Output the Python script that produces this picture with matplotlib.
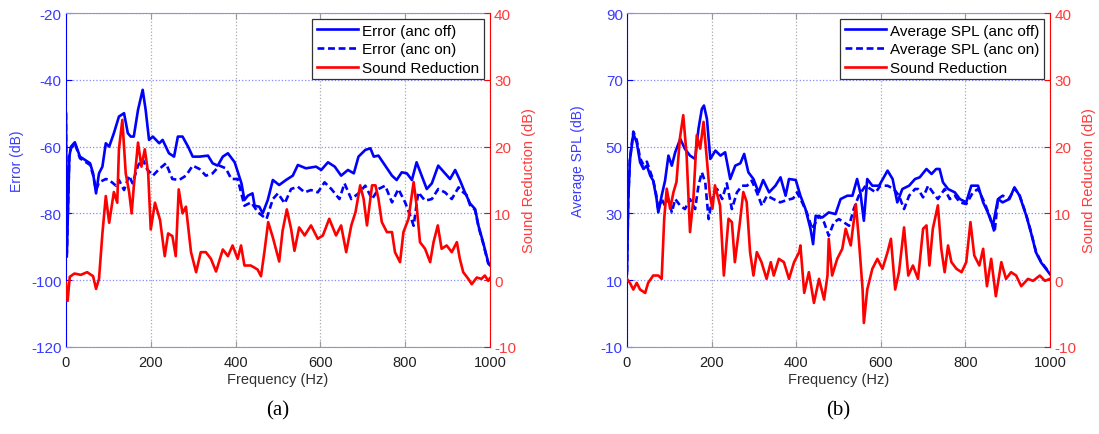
import matplotlib

matplotlib.use("Agg")
import matplotlib.pyplot as plt
import numpy as np

plt.rcParams["font.family"] = ["Liberation Sans", "DejaVu Sans"]
plt.rcParams["axes.unicode_minus"] = False

BLUE = "#0000ff"
RED = "#ff0000"
BLUE_TXT = "#3a3aff"
RED_TXT = "#ff3a3a"

# (a) error microphone spectrum
fa_off = [0, 2, 8, 12, 21, 33, 45, 57, 64, 71, 78, 86, 94, 102, 113, 125, 137, 146, 153, 160,
          170, 181, 188, 196, 205, 220, 228, 243, 255, 264, 275, 288, 299, 315, 335, 346, 358,
          370, 382, 398, 414, 421, 429, 440, 445, 456, 464, 476, 488, 503, 519, 535, 547, 566,
          590, 602, 618, 634, 649, 665, 679, 690, 706, 718, 726, 737, 753, 769, 780, 792, 804,
          816, 827, 839, 851, 863, 878, 894, 906, 918, 929, 941, 953, 965, 973, 984, 996, 1000]
err_off = [-50, -93, -63, -60, -58.7, -63, -64, -65, -68, -74, -68, -66, -59, -60, -56, -51, -50,
           -56, -57, -57, -49, -43, -49, -58, -57, -59, -58, -62, -63, -57, -57, -60, -63, -63,
           -62.7, -65, -65.7, -63, -62, -64.7, -71, -76, -74.7, -74, -77.7, -78, -80, -76, -70,
           -71.5, -70, -68.7, -65.5, -66.5, -66, -67, -64.7, -66, -68.7, -67, -68, -63, -61,
           -60.5, -63, -62.7, -65.7, -68.7, -70, -67.7, -68, -70, -64.7, -68.7, -72.7, -71,
           -65.7, -68, -69.7, -67, -70, -73.7, -77, -78.7, -83.7, -88.7, -94.7, -95.5]

fa_on = [0, 2, 8, 12, 21, 33, 45, 57, 64, 71, 78, 94, 102, 118, 125, 137, 149, 157, 170, 181,
         191, 205, 220, 236, 251, 267, 283, 299, 315, 330, 346, 362, 377, 390, 405, 421, 437,
         453, 473, 488, 500, 516, 531, 547, 563, 578, 594, 610, 626, 645, 657, 673, 690, 706,
         722, 737, 753, 769, 784, 800, 812, 820, 831, 847, 863, 878, 894, 910, 926, 937, 945,
         953, 965, 973, 984, 996, 1000]
err_on = [-50, -92, -63, -60.5, -59, -63.5, -64.5, -65.5, -68.5, -73, -70.7, -69.7, -70, -71.7,
          -70, -73, -68.7, -71, -65.7, -63.7, -66.7, -68.7, -66.7, -65, -69.7, -70, -68.7,
          -65.7, -66.7, -68.7, -68, -65.7, -66.5, -69.7, -69.7, -77.7, -76.7, -79.7, -81.7,
          -75.7, -74, -77, -72.7, -72, -73.7, -73, -73.7, -70.7, -72.7, -75.7, -71, -75.7, -74,
          -71.7, -75.7, -72.7, -71.7, -76.7, -72.7, -76.7, -80.7, -83.7, -73.7, -76.2, -75.7,
          -72.7, -73.7, -75.7, -72.2, -73.7, -74.5, -77.5, -79, -84, -89, -95, -95.5]

fa_red = [0, 4, 9, 20, 35, 50, 64, 71, 78, 86, 94, 102, 113, 121, 125, 133, 141, 149, 155, 160,
          170, 178, 186, 194, 200, 210, 222, 233, 241, 251, 259, 266, 275, 283, 295, 307, 318,
          330, 342, 354, 370, 382, 393, 405, 413, 421, 436, 452, 460, 468, 477, 488, 503, 511,
          521, 531, 539, 550, 563, 578, 594, 606, 621, 637, 649, 661, 673, 683, 694, 702, 710,
          722, 730, 737, 745, 757, 769, 776, 788, 796, 808, 820, 827, 835, 847, 859, 867, 877,
          886, 898, 910, 922, 929, 937, 949, 957, 969, 980, 988, 996, 1000]
red_a = [-0.4, -3.1, 0.5, 1, 0.8, 1.2, 0.6, -1.3, 0.2, 7, 12.6, 8.6, 13.2, 11.6, 19.6, 24, 16,
         13.2, 10, 14, 20.6, 17, 19.6, 16, 7.6, 11.6, 9, 3.6, 7, 6.6, 3.6, 13.6, 10, 11, 4.2,
         1.2, 4.2, 4.2, 3.2, 1.3, 4.6, 3.6, 5.2, 3.2, 5.2, 2.2, 2.2, 1.6, 0.6, 4.2, 8.7, 6.4,
         2.8, 7.4, 10.6, 7.7, 4.4, 7.9, 6.7, 8.2, 6.2, 6.7, 9.2, 6.7, 8.2, 4.2, 8.2, 10.2, 14.2,
         12.2, 8.2, 14.2, 14.2, 12.2, 8.7, 7.2, 7.2, 4.2, 2.7, 7.2, 9.2, 14.7, 11.2, 5.7, 4.7,
         2.7, 5.7, 8.2, 4.7, 5.2, 4.2, 5.7, 3.2, 1.2, 0.2, -0.6, 0.4, 0.2, 0.7, -0.1, 0.3]

# (b) averaged SPL over the monitoring points
fb_off = [0, 3, 7, 15, 23, 31, 39, 47, 55, 62, 70, 74, 82, 90, 98, 106, 114, 126, 137, 149, 161,
          169, 177, 182, 189, 197, 209, 221, 232, 244, 256, 268, 277, 287, 299, 311, 322, 336,
          351, 363, 375, 383, 399, 410, 422, 434, 440, 446, 462, 477, 493, 505, 521, 533, 544,
          552, 560, 568, 580, 596, 616, 628, 639, 651, 667, 681, 692, 708, 720, 731, 739, 747,
          759, 775, 787, 802, 814, 830, 842, 853, 865, 877, 888, 904, 916, 928, 944, 955, 967,
          979, 991, 1000]
spl_off = [12, 34, 46, 53.8, 51.3, 45.3, 43.3, 44.3, 41.3, 39.8, 34.3, 30.3, 35.3, 39.8, 47.3,
           44.3, 48.3, 52.3, 49.3, 47.3, 46.3, 55.3, 61.3, 62.3, 58.3, 46.3, 48.8, 47.3, 48.3,
           40.3, 44.3, 45, 47.8, 42.3, 40.3, 36.3, 40, 36.3, 38.3, 40.8, 35.3, 40.3, 40, 35.3,
           31.3, 25.3, 20.8, 29.3, 28.8, 30.3, 29.8, 34.3, 35.3, 35.3, 40.3, 36, 27.8, 40.3,
           38.3, 38.3, 42.8, 40.3, 33.3, 37.3, 38.3, 40.3, 40.8, 43.3, 41.8, 43.3, 43.3, 39.3,
           37.3, 36.3, 34.3, 33.3, 38.3, 38.3, 33.3, 30.3, 26.3, 34.3, 33.3, 34.3, 37.8, 35.3,
           29.3, 24.3, 18.3, 15.3, 13.3, 11.8]

fb_on = [0, 3, 7, 15, 23, 31, 39, 47, 55, 62, 70, 74, 82, 90, 98, 106, 114, 126, 137, 149, 161,
         169, 177, 185, 193, 201, 213, 225, 236, 248, 260, 272, 284, 295, 307, 319, 331, 346,
         362, 378, 393, 402, 414, 425, 438, 454, 466, 477, 489, 501, 513, 525, 536, 548, 564,
         576, 588, 599, 616, 631, 643, 655, 667, 681, 688, 700, 712, 723, 735, 751, 763, 775,
         787, 802, 818, 830, 845, 857, 869, 877, 888, 904, 916, 928, 944, 955, 967, 979, 991,
         1000]
spl_on = [12.5, 34.5, 46.5, 54.5, 52, 46.5, 44.5, 45.5, 42.5, 40, 35, 31, 34.3, 32.3, 34.3, 30.3,
          34.3, 32.3, 31.3, 34.3, 31.3, 38.3, 42.3, 39.3, 28.3, 34.3, 37.3, 34.3, 39, 31.3, 36.3,
          38.3, 38.3, 39.8, 36.3, 32.3, 35.3, 34.3, 33.3, 34, 34.5, 36.3, 33.3, 30.3, 25.3, 29.3,
          27.3, 23.3, 27.3, 28.3, 27.3, 26.3, 31.3, 35.3, 38.3, 37.3, 36.3, 38.3, 38.3, 37.3,
          35.3, 31.3, 35.3, 37.3, 37.3, 34.8, 38.3, 36.3, 34.3, 37.3, 34.3, 35.3, 33.3, 32.8,
          36.3, 37.3, 33.3, 29.3, 24.3, 34.3, 35.3, 34.5, 37.5, 35.5, 29.5, 24.5, 18.5, 15.5,
          13.5, 12]

fb_red = [0, 7, 15, 23, 31, 43, 50, 62, 74, 82, 88, 94, 102, 110, 117, 125, 133, 141, 149, 157,
          165, 173, 181, 188, 196, 202, 208, 220, 229, 240, 248, 255, 267, 275, 283, 291, 299,
          307, 318, 330, 340, 347, 359, 371, 383, 395, 407, 410, 419, 430, 442, 454, 466, 474,
          477, 485, 497, 509, 517, 529, 541, 548, 557, 560, 568, 580, 592, 604, 616, 624, 634,
          643, 655, 665, 676, 688, 700, 708, 715, 723, 735, 743, 751, 759, 767, 779, 791, 802,
          812, 821, 833, 842, 851, 861, 872, 885, 896, 908, 920, 932, 948, 960, 976, 988, 1000]
red_b = [0.2, -0.4, -1.4, -0.4, -1.4, -1.9, -0.4, 0.7, 0.7, 0.2, 9.2, 13.7, 10.7, 13.2, 14.7,
         21.2, 24.7, 18.7, 7.2, 12.2, 21.7, 19.7, 23.7, 18.7, 12.7, 10.7, 14.2, 11.2, 0.7, 9.2,
         8.7, 2.7, 8.7, 13.2, 11.7, 4.2, 0.7, 4.2, 2.7, 0.2, 2.7, 0.7, 3.2, 2.7, 0.2, 2.7, 4.2,
         5.2, -1.9, 1.2, -3.4, 0.2, -2.9, 0.7, 6.2, 0.7, 3.2, 4.7, 7.7, 5.2, 11.4, 6.2, -1.4,
         -6.4, -1.4, 1.7, 3.2, 1.7, 4.2, 6.2, -1.4, 1.2, 7.9, 0.7, 2.2, 0.2, 7.7, 8.2, 2.2, 7.7,
         11.2, 4.7, 1.2, 5.2, 2.7, 1.7, 1.2, 2.7, 8.7, 3.7, 2.2, 4.7, -0.9, 3.2, -2.4, 2.7, 0.2,
         1.2, 0.7, -0.9, 0.2, -0.1, 0.7, -0.1, 0.2]

freq_ticks = [0, 200, 400, 600, 800, 1000]
red_ticks = [-10, 0, 10, 20, 30, 40]


def draw_panel(ax, f_off, y_off, f_on, y_on, f_red, y_red, *, left_ticks, left_label,
               labels, label_y, caption):
    ax.plot(f_off, y_off, color=BLUE, lw=1.9, label=labels[0])
    ax.plot(f_on, y_on, color=BLUE, lw=1.9, ls=(0, (2.6, 1.4)), label=labels[1])
    ax.set_xlim(0, 1000)
    ax.set_ylim(left_ticks[0], left_ticks[-1])
    ax.set_xticks(freq_ticks)
    ax.set_yticks(left_ticks)
    ax.set_xlabel("Frequency (Hz)", fontsize=10.5, color="#303030", labelpad=2)
    ax.set_ylabel(left_label, fontsize=10, color=BLUE_TXT, labelpad=2)
    ax.yaxis.set_label_coords(-0.1, label_y)
    ax.tick_params(axis="x", direction="in", length=4, colors="#999999", labelcolor="#202020",
                   labelsize=10.5, top=True, pad=6)
    ax.tick_params(axis="y", direction="in", length=4, colors=BLUE, labelcolor=BLUE_TXT,
                   labelsize=11, pad=3)
    ax.xaxis.grid(True, ls=":", lw=0.9, color="#aaaaaa")
    ax.yaxis.grid(True, ls=":", lw=0.9, color="#8888ff")
    ax.set_axisbelow(True)
    for side in ("top", "bottom"):
        ax.spines[side].set_color("#999999")
    ax.spines["left"].set_color(BLUE)
    ax.spines["right"].set_visible(False)

    ax2 = ax.twinx()
    ax2.plot(f_red, y_red, color=RED, lw=1.9, label=labels[2])
    ax2.set_ylim(red_ticks[0], red_ticks[-1])
    ax2.set_yticks(red_ticks)
    ax2.set_ylabel("Sound Reduction (dB)", fontsize=10.5, color=RED_TXT, labelpad=4)
    ax2.tick_params(axis="y", direction="in", length=4, colors=RED, labelcolor=RED_TXT,
                    labelsize=11, pad=3)
    ax2.spines["right"].set_color(RED)
    for side in ("top", "bottom", "left"):
        ax2.spines[side].set_visible(False)

    handles = ax.get_lines() + ax2.get_lines()
    leg = ax2.legend(handles, [h.get_label() for h in handles], loc="upper right",
                     fontsize=11, fancybox=False, framealpha=1, edgecolor="#333333",
                     handlelength=2.7, handletextpad=0.25, borderpad=0.3, labelspacing=0.3,
                     borderaxespad=0.4)
    leg.get_frame().set_linewidth(0.9)

    ax.text(0.5, -0.16, caption, transform=ax.transAxes, ha="center", va="top",
            fontsize=15, family=["Liberation Serif", "DejaVu Serif"])


fig = plt.figure(figsize=(10.99, 4.35), dpi=100)
ax_a = fig.add_axes([0.0600, 0.2000, 0.3858, 0.7678])
ax_b = fig.add_axes([0.5705, 0.2000, 0.3849, 0.7678])

draw_panel(ax_a, fa_off, err_off, fa_on, err_on, fa_red, red_a,
           left_ticks=[-120, -100, -80, -60, -40, -20], left_label="Error (dB)",
           labels=["Error (anc off)", "Error (anc on)", "Sound Reduction"],
           label_y=0.56, caption="(a)")
draw_panel(ax_b, fb_off, spl_off, fb_on, spl_on, fb_red, red_b,
           left_ticks=[-10, 10, 30, 50, 70, 90], left_label="Average SPL (dB)",
           labels=["Average SPL (anc off)", "Average SPL (anc on)", "Sound Reduction"],
           label_y=0.56, caption="(b)")

fig.savefig("out.png", dpi=100)
